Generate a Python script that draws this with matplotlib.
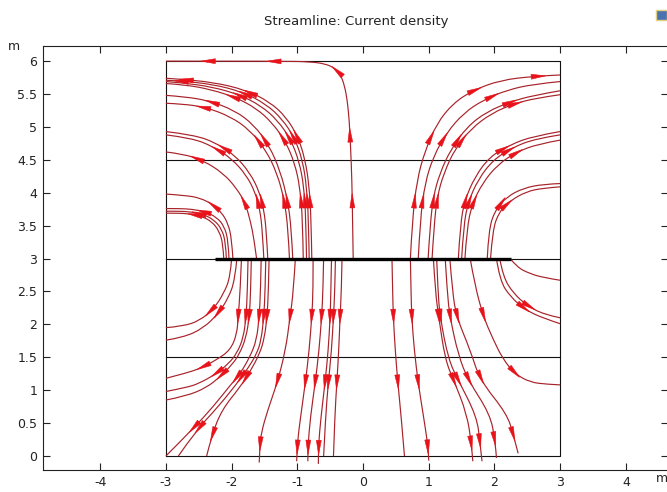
import numpy as np
import matplotlib
matplotlib.use("Agg")
import matplotlib.pyplot as plt
from matplotlib.patches import Polygon, Rectangle, PathPatch
from matplotlib.path import Path

plt.rcParams['axes.unicode_minus'] = False
plt.rcParams['font.family'] = 'DejaVu Sans'

# geometry: outer box, layer boundaries and the plate
box_x = [-3, 3, 3, -3, -3]
box_y = [0, 0, 6, 6, 0]
layer_y = [1.5, 3.0, 4.5]
plate_x = [-2.25, 2.25]
plate_y = 3.0

x_ticks = [-4, -3, -2, -1, 0, 1, 2, 3, 4]
y_ticks = [0, 0.5, 1, 1.5, 2, 2.5, 3, 3.5, 4, 4.5, 5, 5.5, 6]

# streamlines, each as (x, y), starting at the plate
# upper left: small arcs to the left wall
ul_inner = [
    ([-2.12, -2.13, -2.19, -2.30, -2.45, -2.64, -2.82, -3.0], [3.0, 3.22, 3.42, 3.56, 3.64, 3.68, 3.69, 3.69]),
    ([-2.08, -2.09, -2.15, -2.27, -2.43, -2.62, -2.81, -3.0], [3.0, 3.24, 3.45, 3.59, 3.67, 3.71, 3.72, 3.72]),
    ([-2.04, -2.05, -2.11, -2.23, -2.40, -2.60, -2.80, -3.0], [3.0, 3.26, 3.49, 3.63, 3.71, 3.75, 3.76, 3.76]),
    ([-1.98, -2.00, -2.05, -2.15, -2.30, -2.48, -2.70, -3.0], [3.0, 3.30, 3.52, 3.70, 3.83, 3.92, 3.96, 3.98]),
]
ul_middle = [
    ([-1.62, -1.66, -1.71, -1.79, -1.92, -2.12, -2.43, -2.74, -3.0], [3.0, 3.30, 3.55, 3.84, 4.06, 4.29, 4.49, 4.59, 4.62]),
    ([-1.51, -1.53, -1.57, -1.64, -1.77, -2.00, -2.28, -2.60, -3.0], [3.0, 3.40, 3.75, 4.00, 4.26, 4.52, 4.70, 4.83, 4.88]),
    ([-1.45, -1.47, -1.51, -1.58, -1.72, -1.95, -2.24, -2.58, -3.0], [3.0, 3.40, 3.75, 4.02, 4.30, 4.57, 4.76, 4.88, 4.93]),
]
ul_outer = [
    ([-1.12, -1.14, -1.20, -1.31, -1.48, -1.72, -2.02, -2.40, -2.75, -3.0], [3.0, 3.45, 3.90, 4.30, 4.65, 4.95, 5.16, 5.30, 5.35, 5.36]),
    ([-1.07, -1.09, -1.15, -1.26, -1.43, -1.66, -1.95, -2.35, -2.72, -3.0], [3.0, 3.45, 3.90, 4.33, 4.72, 5.03, 5.25, 5.40, 5.46, 5.48]),
    ([-0.91, -0.92, -0.96, -1.04, -1.18, -1.38, -1.62, -1.94, -2.32, -2.70, -3.0], [3.0, 3.6, 4.08, 4.45, 4.78, 5.06, 5.28, 5.45, 5.57, 5.64, 5.66]),
    ([-0.86, -0.87, -0.90, -0.97, -1.10, -1.30, -1.55, -1.88, -2.30, -2.75, -3.0], [3.0, 3.6, 4.09, 4.47, 4.81, 5.10, 5.32, 5.49, 5.61, 5.67, 5.69]),
    ([-0.82, -0.83, -0.86, -0.92, -1.04, -1.23, -1.48, -1.83, -2.29, -2.80, -3.0], [3.0, 3.6, 4.10, 4.49, 4.83, 5.12, 5.35, 5.53, 5.65, 5.70, 5.71]),
    ([-0.78, -0.79, -0.82, -0.88, -0.99, -1.17, -1.42, -1.78, -2.28, -2.84, -3.0], [3.0, 3.6, 4.10, 4.50, 4.85, 5.15, 5.38, 5.56, 5.68, 5.73, 5.74]),
]
# the one that runs up and along the top wall
top_line = ([-0.15, -0.16, -0.17, -0.19, -0.21, -0.24, -0.28, -0.34, -0.44, -0.58, -0.80, -1.2, -3.0],
            [3.0, 3.6, 4.2, 4.7, 5.1, 5.4, 5.62, 5.79, 5.90, 5.96, 5.99, 6.0, 6.0])

# upper right
ur_outer = [
    ([0.72, 0.75, 0.82, 0.94, 1.12, 1.37, 1.68, 2.09, 2.59, 3.0], [3.0, 3.59, 4.19, 4.63, 5.05, 5.36, 5.56, 5.71, 5.77, 5.79]),
    ([0.84, 0.87, 0.94, 1.07, 1.27, 1.53, 1.83, 2.19, 2.59, 3.0], [3.0, 3.59, 4.14, 4.55, 4.91, 5.21, 5.41, 5.56, 5.65, 5.69]),
    ([0.99, 1.02, 1.07, 1.17, 1.33, 1.58, 1.88, 2.24, 2.59, 3.0], [3.0, 3.50, 3.95, 4.30, 4.65, 5.00, 5.23, 5.38, 5.48, 5.55]),
    ([1.05, 1.08, 1.13, 1.23, 1.40, 1.65, 1.96, 2.29, 2.64, 3.0], [3.0, 3.50, 3.95, 4.30, 4.67, 4.98, 5.21, 5.35, 5.44, 5.49]),
]
ur_middle = [
    ([1.45, 1.48, 1.55, 1.70, 1.93, 2.24, 2.59, 3.0], [3.0, 3.53, 3.89, 4.24, 4.55, 4.73, 4.86, 4.93]),
    ([1.50, 1.53, 1.60, 1.75, 1.98, 2.28, 2.62, 3.0], [3.0, 3.50, 3.86, 4.20, 4.50, 4.69, 4.82, 4.88]),
    ([1.55, 1.58, 1.66, 1.82, 2.05, 2.34, 2.66, 3.0], [3.0, 3.46, 3.83, 4.15, 4.43, 4.62, 4.74, 4.80]),
]
ur_inner = [
    ([1.89, 1.91, 2.01, 2.19, 2.44, 2.74, 3.0], [3.0, 3.43, 3.74, 3.94, 4.07, 4.13, 4.14]),
    ([1.94, 1.97, 2.07, 2.24, 2.49, 2.74, 3.0], [3.0, 3.43, 3.71, 3.88, 4.02, 4.07, 4.09]),
]

# lower left
ll_down = [
    ([-1.03, -1.06, -1.11, -1.18, -1.31, -1.45, -1.55, -1.57, -1.58], [3.0, 2.5, 2.12, 1.6, 1.1, 0.7, 0.35, 0.14, -0.10]),
    ([-0.76, -0.76, -0.78, -0.82, -0.88, -0.95, -1.00, -1.01], [3.0, 2.5, 2.12, 1.6, 1.1, 0.6, 0.2, -0.08]),
    ([-0.60, -0.61, -0.63, -0.67, -0.73, -0.80, -0.84, -0.84], [3.0, 2.5, 2.12, 1.6, 1.1, 0.6, 0.14, -0.08]),
    ([-0.48, -0.49, -0.50, -0.53, -0.58, -0.64, -0.68, -0.68], [3.0, 2.5, 2.12, 1.6, 1.1, 0.6, 0.14, -0.12]),
    ([-0.42, -0.43, -0.45, -0.48, -0.53, -0.57, -0.60], [3.0, 2.5, 2.12, 1.6, 1.1, 0.6, 0.0]),
    ([-0.32, -0.33, -0.35, -0.37, -0.40, -0.43, -0.45], [3.0, 2.5, 2.12, 1.6, 1.1, 0.6, 0.0]),
]
ll_wall = [
    ([-2.00, -2.02, -2.12, -2.27, -2.48, -2.74, -3.0], [3.0, 2.72, 2.47, 2.24, 2.06, 1.97, 1.95]),
    ([-1.92, -1.95, -2.05, -2.20, -2.43, -2.74, -3.0], [3.0, 2.67, 2.40, 2.17, 1.94, 1.80, 1.76]),
    ([-1.85, -1.87, -1.90, -1.92, -2.02, -2.23, -2.48, -2.69, -3.0], [3.0, 2.5, 2.12, 1.85, 1.61, 1.46, 1.33, 1.26, 1.18]),
    ([-1.75, -1.76, -1.78, -1.82, -1.92, -2.05, -2.25, -2.50, -2.69, -3.0], [3.0, 2.5, 2.12, 1.80, 1.56, 1.40, 1.24, 1.10, 1.04, 0.98]),
    ([-1.70, -1.71, -1.73, -1.78, -1.88, -2.00, -2.18, -2.38, -2.69, -3.0], [3.0, 2.5, 2.12, 1.80, 1.55, 1.38, 1.20, 1.04, 0.91, 0.85]),
]
ll_corner = [
    ([-1.55, -1.56, -1.58, -1.62, -1.72, -1.87, -2.00, -2.28, -2.58, -3.0], [3.0, 2.5, 2.12, 1.76, 1.51, 1.25, 1.10, 0.75, 0.42, 0.0]),
    ([-1.48, -1.49, -1.51, -1.55, -1.62, -1.74, -1.92, -2.22, -2.53, -2.81], [3.0, 2.5, 2.12, 1.76, 1.55, 1.35, 1.10, 0.73, 0.40, 0.0]),
    ([-1.43, -1.44, -1.46, -1.50, -1.57, -1.72, -1.87, -2.15, -2.30, -2.38], [3.0, 2.5, 2.12, 1.80, 1.56, 1.28, 1.05, 0.70, 0.32, 0.0]),
]

# lower right
lr_down = [
    ([0.44, 0.45, 0.46, 0.49, 0.53, 0.58, 0.63], [3.0, 2.5, 2.12, 1.6, 1.1, 0.6, 0.0]),
    ([0.72, 0.73, 0.74, 0.78, 0.84, 0.92, 0.99, 1.00], [3.0, 2.5, 2.12, 1.6, 1.1, 0.6, 0.14, -0.07]),
    ([1.07, 1.10, 1.15, 1.25, 1.38, 1.58, 1.65, 1.67], [3.0, 2.5, 2.12, 1.46, 1.15, 0.64, 0.18, -0.08]),
    ([1.12, 1.14, 1.17, 1.30, 1.45, 1.73, 1.78, 1.81], [3.0, 2.5, 2.12, 1.46, 1.15, 0.60, 0.20, -0.08]),
    ([1.25, 1.28, 1.32, 1.45, 1.60, 1.93, 2.01, 2.03], [3.0, 2.5, 2.12, 1.53, 1.15, 0.64, 0.24, -0.03]),
    ([1.32, 1.36, 1.42, 1.63, 1.78, 2.19, 2.29, 2.36], [3.0, 2.5, 2.12, 1.61, 1.15, 0.64, 0.31, 0.04]),
]
lr_wall = [
    ([1.63, 1.70, 1.83, 1.98, 2.13, 2.31, 2.54, 2.80, 3.0], [3.0, 2.6, 2.12, 1.77, 1.47, 1.25, 1.12, 1.09, 1.08]),
    ([2.03, 2.08, 2.24, 2.47, 2.75, 3.0], [3.0, 2.67, 2.42, 2.22, 2.09, 2.01]),
    ([2.08, 2.13, 2.29, 2.49, 2.75, 3.0], [3.0, 2.72, 2.47, 2.29, 2.15, 2.10]),
    ([2.24, 2.34, 2.54, 2.75, 3.0], [3.0, 2.87, 2.77, 2.71, 2.67]),
]

LINE_C = '#a8222a'
ARROW_C = '#e8121a'


def smooth_path(xs, ys):
    # quadratic bezier through segment midpoints, read points as controls
    pts = np.column_stack([xs, ys])
    verts = [pts[0]]
    codes = [Path.MOVETO]
    for i in range(1, len(pts) - 1):
        end = pts[i + 1] if i == len(pts) - 2 else (pts[i] + pts[i + 1]) / 2
        verts += [pts[i], end]
        codes += [Path.CURVE3, Path.CURVE3]
    if len(pts) == 2:
        verts.append(pts[1])
        codes.append(Path.LINETO)
    return Path(np.array(verts), codes)


def draw_stream(ax, xs, ys, first=0.88, step=1.0, end_gap=0.15, alen=0.22, awid=0.075):
    path = smooth_path(np.asarray(xs, float), np.asarray(ys, float))
    ax.add_patch(PathPatch(path, fc='none', ec=LINE_C, lw=0.85, zorder=3))
    line = path.to_polygons(closed_only=False)[0]
    seg = np.hypot(np.diff(line[:, 0]), np.diff(line[:, 1]))
    keep = seg > 1e-9
    line = np.vstack([line[0], line[1:][keep]])
    seg = seg[keep]
    s = np.concatenate([[0.0], np.cumsum(seg)])
    pos = first
    while pos < s[-1] - end_gap:
        i = min(np.searchsorted(s, pos) - 1, len(seg) - 1)
        t = (pos - s[i]) / seg[i]
        p = line[i] + t * (line[i + 1] - line[i])
        d = (line[i + 1] - line[i]) / seg[i]
        n = np.array([-d[1], d[0]])
        tip = p + d * alen / 2
        base = p - d * alen / 2
        tri = [tip, base + n * awid / 2, base - n * awid / 2]
        ax.add_patch(Polygon(tri, closed=True, fc=ARROW_C, ec=ARROW_C, lw=0.4, zorder=4))
        pos += step


fig = plt.figure(figsize=(6.67, 4.92), dpi=100)
ax = fig.add_axes([43 / 667, 22 / 492, 625 / 667, 424 / 492])
ax.set_xlim(-4.87, 4.64)
ax.set_ylim(-0.213, 6.23)

# geometry
ax.plot(box_x, box_y, color='#111111', lw=0.8, zorder=2)
for yl in layer_y:
    ax.plot([-3, 3], [yl, yl], color='#111111', lw=0.8, zorder=2)

for group in [ul_inner, ul_middle, ul_outer, [top_line], ur_outer, ur_middle, ur_inner,
              ll_down, ll_wall, ll_corner, lr_down, lr_wall]:
    for xs, ys in group:
        draw_stream(ax, xs, ys)

ax.plot(plate_x, [plate_y, plate_y], color='black', lw=2.4, zorder=5, solid_capstyle='butt')

ax.set_xticks(x_ticks)
ax.set_yticks(y_ticks)
ax.set_xticklabels([f"{v:g}" for v in x_ticks])
ax.set_yticklabels([f"{v:g}" for v in y_ticks])
ax.tick_params(direction='in', top=True, right=True, length=5, width=0.8,
               labelsize=9, colors='#222222', pad=4)
for sp in ax.spines.values():
    sp.set_color('#222222')
    sp.set_linewidth(0.8)

fig.text(356 / 667, 1 - 22 / 492, "Streamline: Current density", ha='center', va='center',
         fontsize=9.5, color='#222222')
fig.text(14 / 667, 1 - 46 / 492, "m", ha='center', va='center', fontsize=9, color='#222222')
fig.text(662 / 667, 1 - 479 / 492, "m", ha='center', va='center', fontsize=9, color='#222222')

# small toolbar icon in the corner
fig.patches.append(Rectangle((656 / 667, 1 - 20 / 492), 11 / 667, 10 / 492, transform=fig.transFigure,
                             fc='#4a72b0', ec='#e0d080', lw=1.0, figure=fig))

fig.savefig("out.png", dpi=100)
